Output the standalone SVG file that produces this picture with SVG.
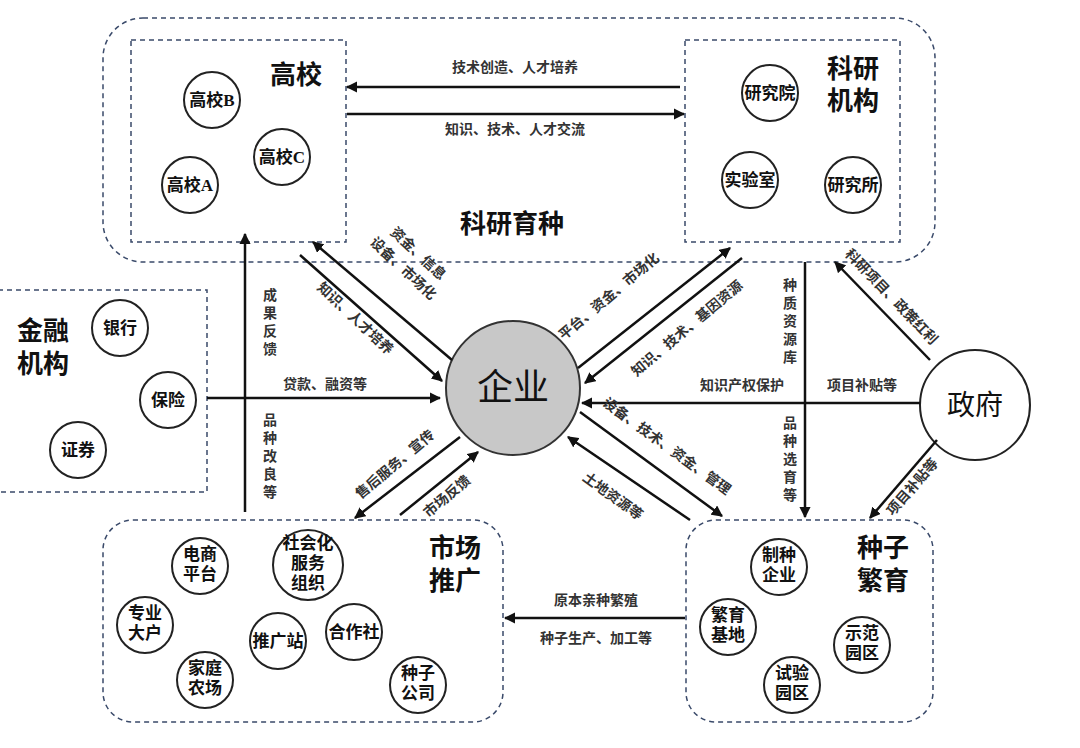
<svg xmlns="http://www.w3.org/2000/svg" width="1080" height="748" viewBox="0 0 1080 748">
<style>
.box{fill:none;stroke:#3a4a6a;stroke-width:1.5;stroke-dasharray:5,4}
.c{fill:#fff;stroke:#222;stroke-width:2}
.n{font-family:"Liberation Serif","Noto Sans CJK SC",serif;font-weight:bold;font-size:17px;text-anchor:middle;fill:#111}
.t{font-family:"Liberation Serif","Noto Sans CJK SC",serif;font-weight:bold;font-size:26px;text-anchor:middle;fill:#111}
.l{font-family:"Liberation Sans","Noto Sans CJK SC",sans-serif;font-weight:bold;font-size:14px;text-anchor:middle;fill:#333}
.a{stroke:#111;stroke-width:2.5;fill:none;marker-end:url(#ah)}
</style>
<defs><marker id="ah" viewBox="0 0 10 10" refX="9" refY="5" markerWidth="4.5" markerHeight="4.5" orient="auto"><path d="M0,0L10,5L0,10z" fill="#111"/></marker></defs>
<rect width="1080" height="748" fill="#fff"/>
<g id="keyan">
<rect class="box" x="103" y="18" width="832" height="244" rx="40"/>
<text class="t" x="512" y="233">科研育种</text>
</g>
<g id="gaoxiao">
<rect class="box" x="131" y="40" width="215" height="202"/>
<text class="t" x="296" y="84">高校</text>
<circle class="c" cx="212" cy="100" r="28"/><text class="n" x="212" y="106">高校B</text>
<circle class="c" cx="282" cy="157" r="28"/><text class="n" x="282" y="163">高校C</text>
<circle class="c" cx="190" cy="185" r="28"/><text class="n" x="190" y="191">高校A</text>
</g>
<g id="jigou">
<rect class="box" x="685" y="40" width="215" height="202"/>
<text class="t" x="853" y="78">科研</text><text class="t" x="853" y="110">机构</text>
<circle class="c" cx="770" cy="93" r="28"/><text class="n" x="770" y="99">研究院</text>
<circle class="c" cx="750" cy="180" r="28"/><text class="n" x="750" y="186">实验室</text>
<circle class="c" cx="853" cy="185" r="28"/><text class="n" x="853" y="191">研究所</text>
</g>
<g id="jinrong">
<rect class="box" x="-2" y="290" width="209" height="202"/>
<text class="t" x="43" y="340">金融</text><text class="t" x="43" y="373">机构</text>
<circle class="c" cx="120" cy="328" r="28"/><text class="n" x="120" y="334">银行</text>
<circle class="c" cx="168" cy="400" r="28"/><text class="n" x="168" y="406">保险</text>
<circle class="c" cx="78" cy="450" r="28"/><text class="n" x="78" y="456">证券</text>
</g>
<g id="shichang">
<rect class="box" x="103" y="520" width="400" height="202" rx="30"/>
<text class="t" x="455" y="557">市场</text><text class="t" x="455" y="590">推广</text>
<circle class="c" cx="200" cy="566" r="28"/><text class="n" x="200" y="560">电商</text><text class="n" x="200" y="580">平台</text>
<circle class="c" cx="308" cy="565" r="35"/><text class="n" x="308" y="549">社会化</text><text class="n" x="308" y="569">服务</text><text class="n" x="308" y="589">组织</text>
<circle class="c" cx="145" cy="625" r="28"/><text class="n" x="145" y="619">专业</text><text class="n" x="145" y="639">大户</text>
<circle class="c" cx="278" cy="641" r="28"/><text class="n" x="278" y="647">推广站</text>
<circle class="c" cx="354" cy="632" r="28"/><text class="n" x="354" y="638">合作社</text>
<circle class="c" cx="205" cy="680" r="28"/><text class="n" x="205" y="674">家庭</text><text class="n" x="205" y="694">农场</text>
<circle class="c" cx="418" cy="685" r="28"/><text class="n" x="418" y="679">种子</text><text class="n" x="418" y="699">公司</text>
</g>
<g id="zhongzi">
<rect class="box" x="686" y="520" width="247" height="202" rx="30"/>
<text class="t" x="883" y="557">种子</text><text class="t" x="883" y="590">繁育</text>
<circle class="c" cx="779" cy="567" r="28"/><text class="n" x="779" y="561">制种</text><text class="n" x="779" y="581">企业</text>
<circle class="c" cx="728" cy="627" r="28"/><text class="n" x="728" y="621">繁育</text><text class="n" x="728" y="641">基地</text>
<circle class="c" cx="862" cy="645" r="28"/><text class="n" x="862" y="639">示范</text><text class="n" x="862" y="659">园区</text>
<circle class="c" cx="792" cy="685" r="28"/><text class="n" x="792" y="679">试验</text><text class="n" x="792" y="699">园区</text>
</g>
<g id="qiye">
<circle cx="513" cy="388" r="67" fill="#c8c8c8" stroke="#333" stroke-width="2"/>
<text class="t" x="513" y="400" style="font-size:36px;font-weight:normal">企业</text>
</g>
<g id="zhengfu">
<circle class="c" cx="975" cy="405" r="55"/>
<text class="t" x="975" y="415" style="font-weight:normal;font-size:28px">政府</text>
</g>
<g id="connectors">
<path class="a" d="M680,87H347"/><text class="l" x="515" y="72">技术创造、人才培养</text>
<path class="a" d="M347,114H684"/><text class="l" x="515" y="134">知识、技术、人才交流</text>
<path class="a" d="M245,512V234"/>
<text class="l" x="270" y="300">成</text><text class="l" x="270" y="318">果</text><text class="l" x="270" y="336">反</text><text class="l" x="270" y="354">馈</text>
<text class="l" x="270" y="425">品</text><text class="l" x="270" y="443">种</text><text class="l" x="270" y="461">改</text><text class="l" x="270" y="479">良</text><text class="l" x="270" y="497">等</text>
<path class="a" d="M207,398H440"/><text class="l" x="325" y="389">贷款、融资等</text>
<path class="a" d="M300,255L442,381"/>
<path class="a" d="M452,360L313,242"/>
<text class="l" transform="translate(352,322) rotate(43)">知识、人才培养</text>
<text class="l" transform="translate(400,272) rotate(43)">设备、市场化</text>
<text class="l" transform="translate(415,257) rotate(43)">资金、信息</text>
<path class="a" d="M578,368L730,248"/>
<path class="a" d="M742,258L585,383"/>
<text class="l" transform="translate(612,300) rotate(-40)">平台、资金、市场化</text>
<text class="l" transform="translate(690,332) rotate(-40)">知识、技术、基因资源</text>
<path class="a" d="M920,403H582"/>
<text class="l" x="742" y="390">知识产权保护</text><text class="l" x="862" y="390">项目补贴等</text>
<path class="a" d="M805,262V517"/>
<text class="l" x="790" y="290">种</text><text class="l" x="790" y="308">质</text><text class="l" x="790" y="326">资</text><text class="l" x="790" y="344">源</text><text class="l" x="790" y="362">库</text>
<text class="l" x="790" y="428">品</text><text class="l" x="790" y="446">种</text><text class="l" x="790" y="464">选</text><text class="l" x="790" y="482">育</text><text class="l" x="790" y="500">等</text>
<path class="a" d="M580,412L722,516"/>
<path class="a" d="M690,520L568,437"/>
<text class="l" transform="translate(664,450) rotate(36)">设备、技术、资金、管理</text>
<text class="l" transform="translate(610,500) rotate(36)">土地资源等</text>
<path class="a" d="M460,437L355,518"/>
<path class="a" d="M400,515L478,452"/>
<text class="l" transform="translate(398,468) rotate(-40)">售后服务、宣传</text>
<text class="l" transform="translate(450,500) rotate(-40)">市场反馈</text>
<path class="a" d="M930,360L835,262"/>
<text class="l" transform="translate(888,300) rotate(46)">科研项目、政策红利</text>
<path class="a" d="M937,440L870,518"/>
<text class="l" transform="translate(916,490) rotate(-49)">项目补贴等</text>
<path class="a" d="M685,618H505"/>
<text class="l" x="596" y="605">原本亲种繁殖</text><text class="l" x="596" y="643">种子生产、加工等</text>
</g>
</svg>
